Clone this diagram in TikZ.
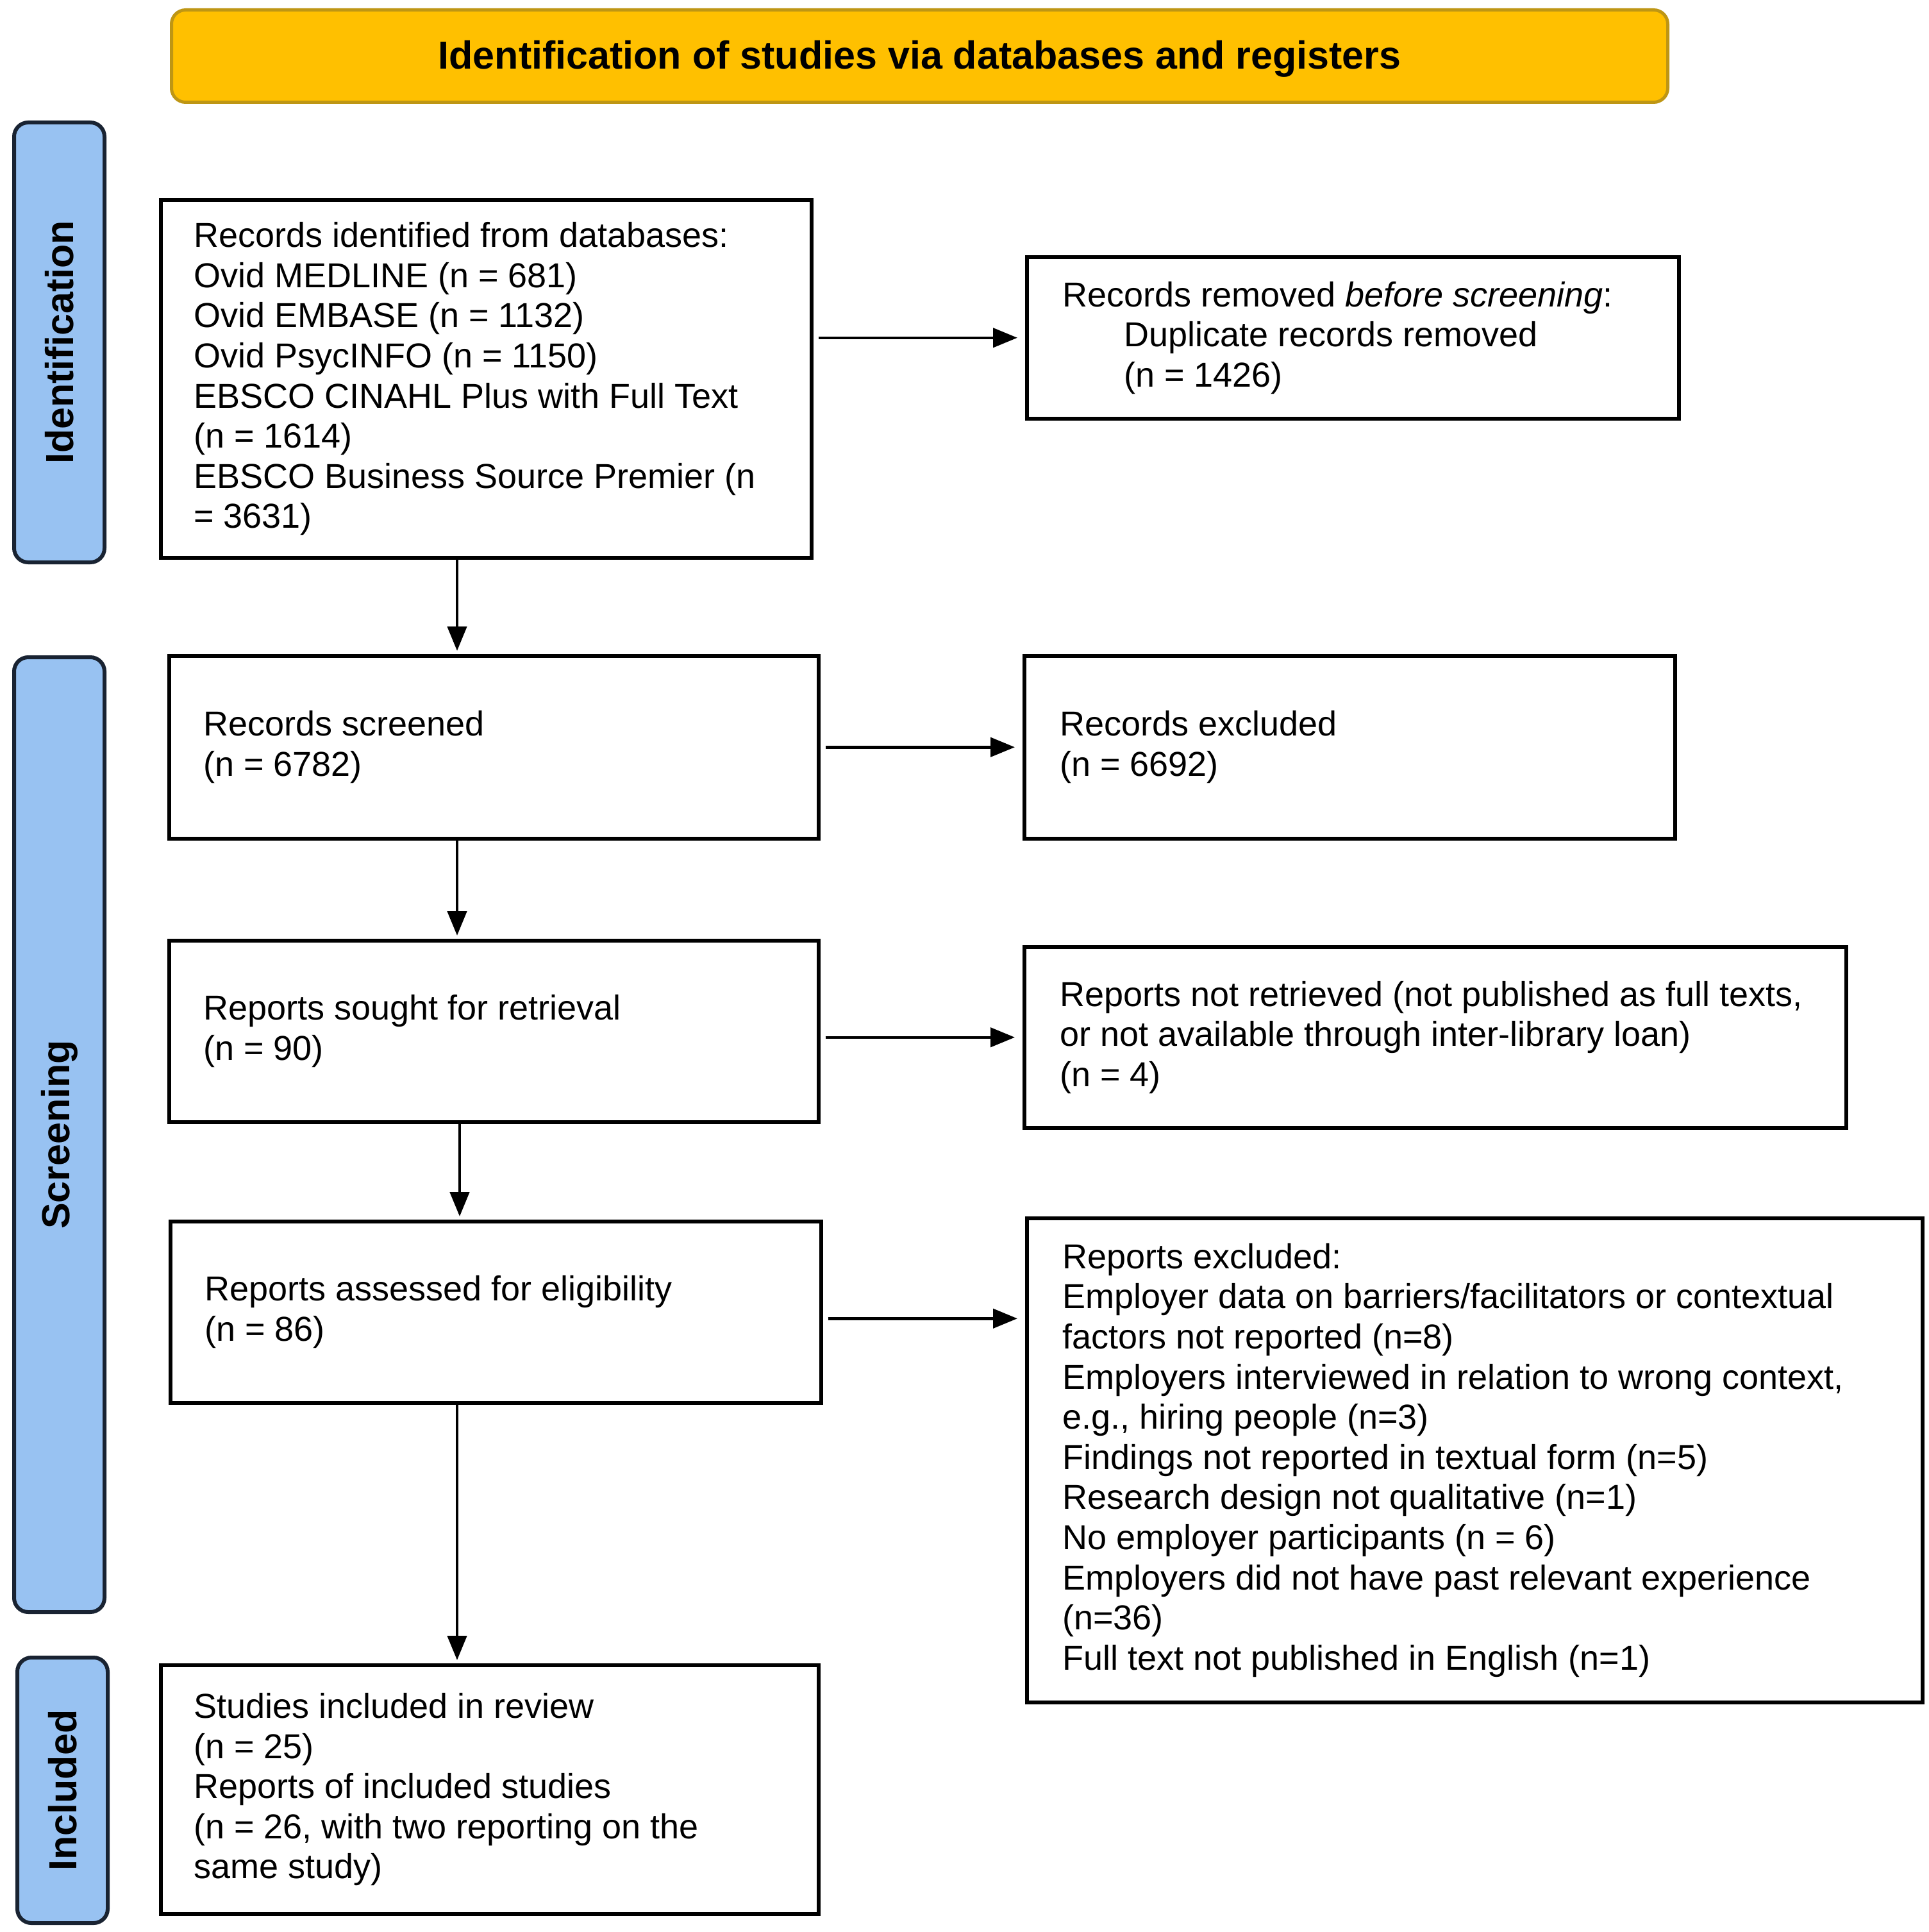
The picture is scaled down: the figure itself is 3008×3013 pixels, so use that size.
\documentclass[tikz,border=0pt]{standalone}
\usepackage{fontspec}
\setmainfont{Liberation Sans}
\usetikzlibrary{arrows.meta,positioning,calc}
\definecolor{hdrfill}{RGB}{255,192,0}
\definecolor{hdrline}{RGB}{190,150,20}
\definecolor{sidefill}{RGB}{152,194,242}
\definecolor{sideline}{RGB}{25,35,50}
\tikzset{
  box/.style={draw=black, line width=5.5pt, fill=white, anchor=north west, inner sep=0pt},
  boxtext/.style={anchor=west, align=left, inner sep=0pt, font=\fontsize{54}{62.6}\selectfont},
  sidebar/.style={draw=sideline, line width=6pt, fill=sidefill, rounded corners=22pt, anchor=north west, inner sep=0pt},
  sidetext/.style={rotate=90, inner sep=0pt, font=\bfseries\fontsize{61}{70}\selectfont},
  header/.style={draw=hdrline, line width=5pt, fill=hdrfill, rounded corners=22pt, anchor=north west, inner sep=0pt},
  flowv/.style={line width=4.5pt, -{Triangle[length=38pt,width=30pt]}, shorten <=0pt, shorten >=5pt},
  flowh/.style={line width=4.5pt, -{Triangle[length=38pt,width=30pt]}, shorten <=8pt, shorten >=12pt},
}
\begin{document}
\begin{tikzpicture}[x=1pt,y=-1pt]
\useasboundingbox[fill=white] (0,0) rectangle (3008,3013);

% header
\node[header, minimum width=2334pt, minimum height=144pt] (hdr) at (265,13) {};
\node[inner sep=0pt, font=\bfseries\fontsize{61}{70}\selectfont] (hdrtext) at ([yshift=-4pt]hdr.center) {Identification of studies via databases and registers};

% sidebars
\node[sidebar, minimum width=141pt, minimum height=686pt] (sid) at (19,188) {};
\node[sidetext] (sidt) at (sid.center) {Identification};
\node[sidebar, minimum width=141pt, minimum height=1489pt] (sscr) at (19,1022) {};
\node[sidetext] (sscrt) at (sscr.center) {Screening};
\node[sidebar, minimum width=141pt, minimum height=414pt] (sinc) at (24,2582) {};
\node[sidetext] (sinct) at (sinc.center) {Included};

% boxes
\node[box, minimum width=1015pt, minimum height=558pt] (b1) at (248,309) {};
\node[boxtext] (t1) at ([xshift=54pt]b1.west) {Records identified from databases:\\Ovid MEDLINE (n = 681)\\Ovid EMBASE (n = 1132)\\Ovid PsycINFO (n = 1150)\\EBSCO CINAHL Plus with Full Text\\(n = 1614)\\EBSCO Business Source Premier (n\\= 3631)};

\node[box, minimum width=1017pt, minimum height=252pt] (b2) at (1599,398) {};
\node[boxtext] (t2) at ([xshift=58pt]b2.west) {Records removed \textit{before screening}:\\\hspace*{96pt}Duplicate records removed\\\hspace*{96pt}(n = 1426)};

\node[box, minimum width=1013pt, minimum height=285pt] (b3) at (261,1020) {};
\node[boxtext] (t3) at ([xshift=56pt]b3.west) {Records screened\\(n = 6782)};

\node[box, minimum width=1015pt, minimum height=285pt] (b4) at (1595,1020) {};
\node[boxtext] (t4) at ([xshift=58pt]b4.west) {Records excluded\\(n = 6692)};

\node[box, minimum width=1013pt, minimum height=283pt] (b5) at (261,1464) {};
\node[boxtext] (t5) at ([xshift=56pt]b5.west) {Reports sought for retrieval\\(n = 90)};

\node[box, minimum width=1282pt, minimum height=282pt] (b6) at (1595,1474) {};
\node[boxtext] (t6) at ([xshift=58pt]b6.west) {Reports not retrieved (not published as full texts,\\or not available through inter-library loan)\\(n = 4)};

\node[box, minimum width=1015pt, minimum height=283pt] (b7) at (263,1902) {};
\node[boxtext] (t7) at ([xshift=56pt]b7.west) {Reports assessed for eligibility\\(n = 86)};

\node[box, minimum width=1397pt, minimum height=755pt] (b8) at (1599,1897) {};
\node[boxtext] (t8) at ([xshift=58pt]b8.west) {Reports excluded:\\Employer data on barriers/facilitators or contextual\\factors not reported (n=8)\\Employers interviewed in relation to wrong context,\\e.g., hiring people (n=3)\\Findings not reported in textual form (n=5)\\Research design not qualitative (n=1)\\No employer participants (n = 6)\\Employers did not have past relevant experience\\(n=36)\\Full text not published in English (n=1)};

\node[box, minimum width=1026pt, minimum height=388pt] (b9) at (248,2594) {};
\node[boxtext] (t9) at ([xshift=54pt]b9.west) {Studies included in review\\(n = 25)\\Reports of included studies\\(n = 26, with two reporting on the\\same study)};

% connectors
\coordinate (spine) at (713,0);
\coordinate (spineb) at (717,0);
\draw[flowv] (b1.south -| spine) -- (b3.north -| spine);
\draw[flowv] (b3.south -| spine) -- (b5.north -| spine);
\draw[flowv] (b5.south -| spineb) -- (b7.north -| spineb);
\draw[flowv] (b7.south -| spine) -- (b9.north -| spine);
\draw[flowh] (b1.east |- b2.west) -- (b2.west);
\draw[flowh] (b3.east) -- (b4.west);
\draw[flowh] (b5.east |- b6.west) -- (b6.west);
\draw[flowh] ([yshift=-10pt]b7.east) -- ([yshift=-10pt]b7.east -| b8.west);
\end{tikzpicture}
\end{document}
